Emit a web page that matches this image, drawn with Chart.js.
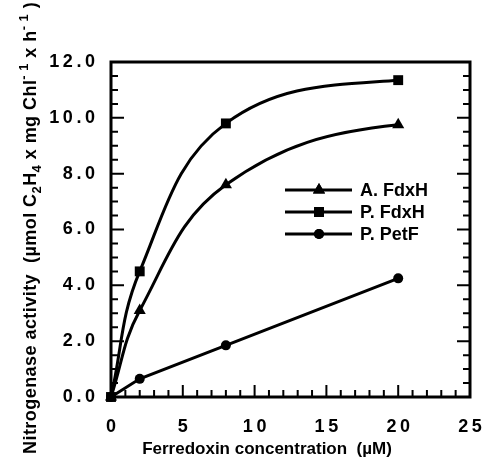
<!DOCTYPE html>
<html>
<head>
<meta charset="utf-8">
<script src="https://cdn.jsdelivr.net/npm/chart.js@4"></script>
<style>
  html, body { margin: 0; padding: 0; background: #fff; }
  #wrap { width: 484px; height: 461px; }
</style>
</head>
<body>
<div id="wrap"><canvas id="chart" width="484" height="461"></canvas></div>
<script>
// Dados
const concentrations = [0, 2, 8, 20];
const aFdxH = [0, 3.1, 7.6, 9.75];
const pFdxH = [0, 4.5, 9.8, 11.35];
const pPetF = [0, 0.65, 1.85, 4.25];
const seriesNames = ['A. FdxH', 'P. FdxH', 'P. PetF'];
const xTicks = [0, 5, 10, 15, 20, 25];
const yTicks = [0, 2, 4, 6, 8, 10, 12];

const FONT = '"Liberation Sans", Arial, sans-serif';
const SP = '\u2009'; // espaço fino entre dígitos

function pts(values) {
  return concentrations.map((c, i) => ({ x: c, y: values[i] }));
}

// Curvas de saturação: a chegada ao último ponto fica quase horizontal
const saturationPlugin = {
  id: 'saturation',
  beforeDatasetDraw(chart, args) {
    const ds = chart.data.datasets[args.index];
    if (!ds.tension) return;
    const line = args.meta.dataset;
    line.updateControlPoints(chart.chartArea, 'x');
    const p = args.meta.data;
    const last = p[p.length - 1], prev = p[p.length - 2];
    last.cp1y = last.y + 0.12 * (prev.y - last.y);
  }
};

// Moldura e marcas para dentro
const framePlugin = {
  id: 'frame',
  afterDraw(chart) {
    const { ctx, chartArea: a, scales: { x, y } } = chart;
    ctx.save();
    ctx.strokeStyle = '#000';
    ctx.lineWidth = 2;
    ctx.beginPath();
    for (let v = 0; v <= 25; v++) {
      const px = x.getPixelForValue(v);
      const len = v % 5 === 0 ? 12 : 7;
      ctx.moveTo(px, a.bottom);
      ctx.lineTo(px, a.bottom - len);
    }
    for (let v = 0; v <= 12; v += 0.5) {
      const py = y.getPixelForValue(v);
      const len = v % 2 === 0 ? 13 : 7;
      ctx.moveTo(a.left, py);
      ctx.lineTo(a.left + len, py);
      ctx.moveTo(a.right, py);
      ctx.lineTo(a.right - len, py);
    }
    ctx.stroke();
    ctx.lineWidth = 3;
    ctx.strokeRect(a.left, a.top, a.right - a.left, a.bottom - a.top);
    ctx.restore();
  }
};

// Legenda dentro do gráfico
const legendPlugin = {
  id: 'innerLegend',
  afterDraw(chart) {
    const ctx = chart.ctx;
    const rows = [190, 212, 234];
    ctx.save();
    chart.data.datasets.forEach((ds, i) => {
      const yy = rows[i];
      ctx.strokeStyle = '#000';
      ctx.lineWidth = 3;
      ctx.beginPath();
      ctx.moveTo(285, yy);
      ctx.lineTo(352, yy);
      ctx.stroke();
      ctx.fillStyle = '#000';
      Chart.helpers.drawPoint(ctx, { pointStyle: ds.pointStyle, radius: ds.pointRadius, rotation: 0, borderWidth: 0 }, 319, yy);
      ctx.fill();
      ctx.font = 'bold 18px ' + FONT;
      ctx.textBaseline = 'middle';
      ctx.textAlign = 'left';
      ctx.fillText(ds.label, 360, yy + 1);
    });
    ctx.restore();
  }
};

// Títulos dos eixos (com índices)
const titlesPlugin = {
  id: 'axisTitles',
  afterDraw(chart) {
    const ctx = chart.ctx;
    ctx.save();
    ctx.fillStyle = '#000';
    ctx.font = 'bold 17px ' + FONT;
    ctx.textAlign = 'center';
    ctx.textBaseline = 'alphabetic';
    ctx.fillText('Ferredoxin concentration  (\u00b5M)', 267, 454);

    // eixo Y, girado
    ctx.translate(36, 454);
    ctx.rotate(-Math.PI / 2);
    ctx.textAlign = 'left';
    ctx.letterSpacing = '0.45px';
    const parts = [
      ['Nitrogenase activity  (\u00b5mol C', 0],
      ['2', 1], ['H', 0], ['4', 1],
      [' x mg Chl', 0], ['-', 2], [' 1', 2],
      [' x h', 0], ['-', 2], [' 1', 2], [' )', 0]
    ];
    let pos = 0;
    parts.forEach(([t, k]) => {
      ctx.font = (k ? 'bold 13px ' : 'bold 18px ') + FONT;
      const dy = k === 1 ? 5 : k === 2 ? -8 : 0;
      ctx.fillText(t, pos, dy);
      pos += ctx.measureText(t).width;
    });
    ctx.restore();
  }
};

const tickFont = { family: FONT, size: 18, weight: 'bold' };
// marcas invisíveis só para afastar os rótulos do eixo
const hiddenGrid = len => ({
  display: true, drawOnChartArea: false, drawTicks: true,
  tickLength: len, color: 'rgba(0,0,0,0)'
});

new Chart(document.getElementById('chart'), {
  type: 'line',
  data: {
    datasets: [
      {
        label: seriesNames[0], data: pts(aFdxH),
        pointStyle: 'triangle', pointRadius: 7
      },
      {
        label: seriesNames[1], data: pts(pFdxH),
        pointStyle: 'rect', pointRadius: 7
      },
      {
        label: seriesNames[2], data: pts(pPetF),
        pointStyle: 'circle', pointRadius: 5,
        tension: 0
      }
    ].map(ds => Object.assign({
      borderColor: '#000', backgroundColor: '#000', borderWidth: 3,
      pointBorderWidth: 0, pointBackgroundColor: '#000', clip: false,
      tension: 0.4
    }, ds))
  },
  options: {
    responsive: false,
    animation: false,
    layout: { padding: { top: 62, right: 14, left: 0, bottom: 0 } },
    plugins: { legend: { display: false }, tooltip: { enabled: false } },
    scales: {
      x: {
        type: 'linear', min: 0, max: 25,
        afterBuildTicks: s => { s.ticks = xTicks.map(v => ({ value: v })); },
        afterFit: s => { s.height = 64; },
        grid: hiddenGrid(19),
        border: { display: false },
        ticks: { font: tickFont, color: '#000', padding: 0, maxRotation: 0,
          callback: v => String(v).split('').join(SP) }
      },
      y: {
        min: 0, max: 12,
        afterBuildTicks: s => { s.ticks = yTicks.map(v => ({ value: v })); },
        afterFit: s => { s.width = 111; },
        grid: hiddenGrid(16),
        border: { display: false },
        ticks: { font: tickFont, color: '#000', padding: 0,
          callback: v => v.toFixed(1).split('').join(SP) }
      }
    }
  },
  plugins: [saturationPlugin, framePlugin, legendPlugin, titlesPlugin]
});
</script>
</body>
</html>
